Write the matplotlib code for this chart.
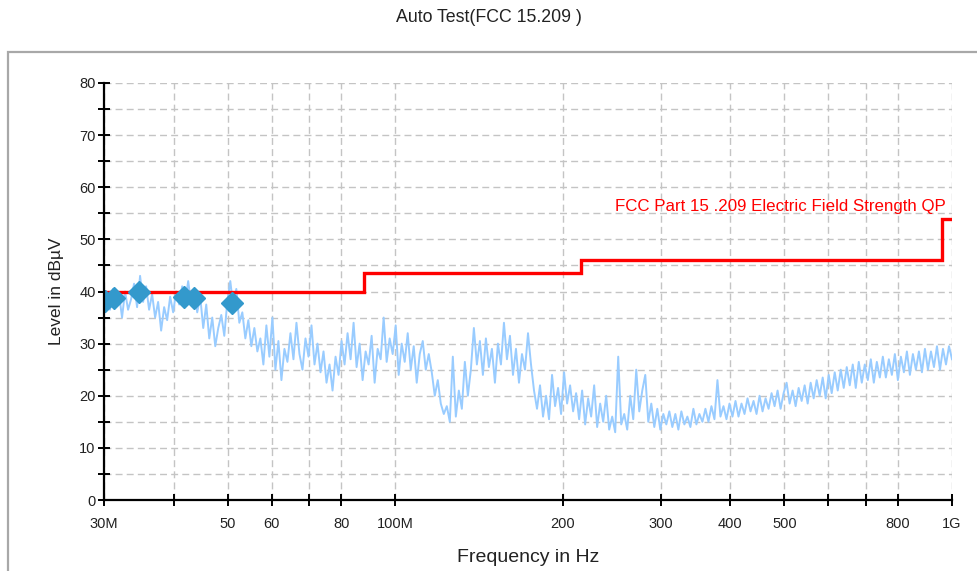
import numpy as np
import matplotlib
matplotlib.use("Agg")
import matplotlib.pyplot as plt
from matplotlib.patches import Rectangle
from matplotlib.ticker import FixedLocator, NullFormatter

plt.rcParams['font.family'] = ['Liberation Sans', 'DejaVu Sans']

# measured trace, dBuV, sweep 30 MHz .. 1 GHz (log spaced points)
trace_dbuv = [
    35.5, 39.0, 36.5, 40.5, 37.0, 39.5, 35.0, 40.0, 36.5,
    38.5, 41.5, 37.0, 43.0, 38.0, 41.0, 36.5, 39.5, 35.0, 38.0,
    32.5, 37.0, 34.5, 39.0, 36.0, 40.0, 37.5, 41.0, 38.0,
    42.0, 37.5, 40.5, 36.0, 39.0,
    33.0, 37.5, 31.0, 35.0, 29.5, 33.0,
    35.5, 31.5, 38.0, 42.0, 37.0, 40.5, 34.0,
    36.0, 31.0, 34.5, 29.5, 33.0, 28.5, 31.0,
    26.0, 33.5, 27.5, 35.0, 25.0, 30.5, 23.0, 29.0, 26.5, 32.0, 27.0, 34.0, 28.0,
    25.0, 31.0, 27.5, 33.5, 26.0, 30.0, 24.5, 28.5, 22.5, 26.0,
    21.0, 27.5, 24.0, 30.5, 26.0, 32.0, 27.0, 34.0, 25.5, 30.0,
    23.0, 28.5, 26.0, 31.5, 22.5, 29.0, 27.0, 35.0, 26.5, 31.0,
    28.0, 33.5, 24.0, 30.0, 26.5, 32.0, 25.0, 29.5, 22.5, 28.0,
    30.5, 25.0, 28.0,
    24.5, 20.0, 23.0, 18.5,
    16.5, 18.0, 15.0, 27.5, 16.0,
    21.0, 17.5,
    26.5, 20.0, 25.0,
    33.0, 26.0, 30.5, 24.0, 31.0, 25.5, 29.0, 22.5, 30.0, 26.0,
    34.0, 27.0, 31.5,
    24.0, 29.0, 22.5, 28.0, 25.0, 32.0, 26.0,
    21.0, 17.5, 22.0, 16.0, 20.0, 15.5, 24.0, 18.0, 21.5, 16.5,
    24.5, 18.5, 22.0, 17.0, 20.5,
    15.5, 21.0, 14.5, 19.5, 16.0, 22.0, 14.0, 18.5, 15.0, 20.0, 13.5, 16.0,
    13.0, 27.5, 14.5, 16.5, 13.5,
    20.0, 15.5, 25.0, 17.0, 21.0,
    24.0, 15.0, 18.5, 14.0, 17.5, 13.5, 16.5, 14.5,
    17.0, 14.0, 16.5, 13.5, 17.0, 14.5, 16.0, 14.0, 17.5, 14.5, 16.5, 15.0,
    17.5, 15.0, 18.0, 15.5, 23.0, 16.0, 18.0, 15.5, 18.5, 16.0,
    19.0, 16.0, 18.5, 16.5, 19.5, 17.0, 19.0, 16.5, 20.0, 17.0,
    19.5, 17.5, 20.5, 18.0, 21.0, 17.5, 20.5, 22.5,
    18.5, 21.0, 18.0, 21.5, 19.0, 22.0, 18.5, 22.5, 19.5, 23.0,
    20.0, 23.5, 19.5, 24.0, 20.5,
    24.5, 21.0, 25.0, 21.5, 25.5, 22.0, 26.0, 21.5, 26.5, 22.5,
    26.0, 23.0, 27.0, 22.5, 26.5, 23.5, 27.5,
    23.5, 27.0, 24.0, 28.0, 23.0, 27.5, 24.5, 28.5, 24.0, 28.0, 25.0, 28.5, 24.5,
    29.0, 25.0, 28.5, 25.5, 29.5, 25.0, 29.0, 26.0, 29.5, 27.0,
]
trace_mhz = np.geomspace(30, 1000, len(trace_dbuv))

# QP peaks found by the final scan
peak_mhz = [30.1, 31.3, 34.7, 41.8, 43.5, 50.9]
peak_dbuv = [38.1, 38.7, 40.0, 39.0, 38.7, 37.7]

# FCC 15.209 limit, 3 m
limit_edges = [30, 88, 216, 960, 1000]
limit_dbuv = [40, 43.5, 46, 54]

xtick_mhz = [30, 40, 50, 60, 70, 80, 100, 200, 300, 400, 500, 600, 700, 800, 1000]
xtick_text = ['30M', '', '50', '60', '', '80', '100M', '200', '300', '400', '500', '', '', '800', '1G']

fig = plt.figure(figsize=(9.78, 5.71), dpi=100)
fig.patches.append(Rectangle((8 / 978, -0.05), 1.0, 0.05 + 1 - 52 / 571,
                             transform=fig.transFigure, fill=False,
                             edgecolor='#A8A8A8', lw=1.6))
ax = fig.add_axes([104 / 978, 1 - 500 / 571, 848 / 978, 417 / 571])

ax.plot(trace_mhz, trace_dbuv, color='#99CCFF', lw=1.4, zorder=2)
ax.stairs(limit_dbuv, limit_edges, baseline=None, color='#FF0000', lw=2.4, zorder=3)
ax.plot(peak_mhz, peak_dbuv, ls='none', marker='D', ms=11, color='#3399CC', zorder=4)
ax.text(975, 56.3, 'FCC Part 15 .209 Electric Field Strength QP', color='#FF0000',
        ha='right', va='center', fontsize=12.2, zorder=5)

ax.set_xscale('log')
ax.set_xlim(30, 1000)
ax.set_ylim(0, 80)
ax.xaxis.set_major_locator(FixedLocator(xtick_mhz))
ax.set_xticklabels(xtick_text)
ax.xaxis.set_minor_locator(FixedLocator([]))
ax.xaxis.set_minor_formatter(NullFormatter())
ax.set_yticks(range(0, 81, 10))
ax.set_yticks(range(5, 80, 10), minor=True)

for s in ['top', 'right']:
    ax.spines[s].set_visible(False)
for s in ['left', 'bottom']:
    ax.spines[s].set_linewidth(1.6)
    ax.spines[s].set_zorder(6)

ax.tick_params(which='both', direction='inout', length=8, width=1.4, colors='black',
               labelcolor='#222222', labelsize=10.5)
ax.tick_params(axis='x', pad=8)
ax.tick_params(axis='y', pad=2)

ax.grid(True, which='both', color='#C4C4C4', ls=(0, (5, 3)), lw=1.0, zorder=0)
ax.set_axisbelow(True)

ax.set_xlabel('Frequency in Hz', fontsize=14, color='#222222', labelpad=13)
ax.set_ylabel('Level in dBµV', fontsize=12.5, color='#222222', labelpad=11)
fig.text(489 / 978, 1 - 17 / 571, 'Auto Test(FCC 15.209 )', ha='center', va='center',
         fontsize=12.8, color='#222222')

fig.savefig('out.png', dpi=100, facecolor='white')
